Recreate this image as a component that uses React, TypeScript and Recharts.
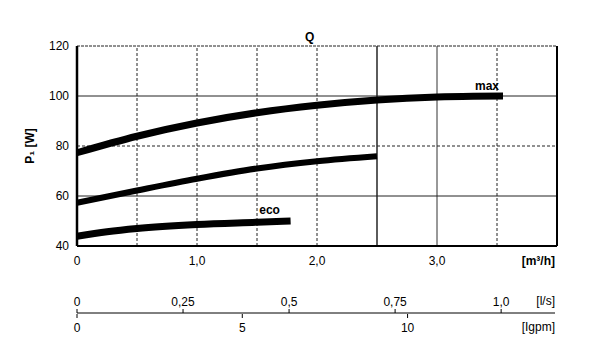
import { LineChart, Line, XAxis, YAxis, ReferenceLine } from "recharts";

// pump curves, Q [m³/h] vs P1 [W]
const maxQ = [0, 0.5, 1.0, 1.5, 2.0, 2.5, 3.0, 3.3, 3.55];
const maxP = [77.3, 83.9, 89.2, 93.3, 96.3, 98.4, 99.6, 99.9, 100.0];

const midQ = [0, 0.5, 1.0, 1.5, 2.0, 2.5];
const midP = [57.3, 62.2, 66.9, 71.0, 73.9, 75.9];

const ecoQ = [0, 0.25, 0.5, 1.0, 1.5, 1.78];
const ecoP = [43.9, 45.7, 47.0, 48.6, 49.5, 50.0];

const qTicks = [0, 1, 2, 3];
const pTicks = [40, 60, 80, 100, 120];
const lsTicks = [0, 0.25, 0.5, 0.75, 1.0];
const igTicks = [0, 5, 10];

// grid
const gridQ = [0.5, 1.0, 1.5, 2.0, 2.5, 3.0, 3.5];
const solidQ = [2.5, 3.0];
const gridP = [60, 80, 100];
const dashedP = [80];

const maxData = maxQ.map((q, i) => ({ q, p: maxP[i] }));
const midData = midQ.map((q, i) => ({ q, p: midP[i] }));
const ecoData = ecoQ.map((q, i) => ({ q, p: ecoP[i] }));
const scaleData = [...lsTicks.map((v) => ({ ls: v })), ...igTicks.map((v) => ({ ig: v }))];

const FONT = "'Liberation Sans', Arial, sans-serif";
const tickStyle = { fill: "#000", fontSize: 12, fontFamily: FONT };

const comma = (v: number) => (v === 0 ? "0" : v.toFixed(1).replace(".", ","));
const comma2 = (v: number) => {
    if (v === 0) return "0";
    if (v === 0.25 || v === 0.75) return v.toFixed(2).replace(".", ",");
    return v.toFixed(1).replace(".", ",");
};

function endLabel(text: string, count: number, dx: number, dy: number) {
    return (props: any) => {
        if (props.index !== count - 1) return null;
        return (
            <text
                x={props.x + dx}
                y={props.y + dy}
                textAnchor="middle"
                fontFamily={FONT}
                fontSize={12}
                fontWeight="bold"
                fill="#000"
            >
                {text}
            </text>
        );
    };
}

export default function App() {
    return (
        <div style={{ position: "absolute", left: 0, top: 0, width: 600, height: 361, background: "#fff" }}>
            <div
                style={{
                    position: "absolute",
                    left: 305,
                    top: 30,
                    fontFamily: FONT,
                    fontSize: 12,
                    fontWeight: "bold",
                }}
            >
                Q
            </div>
            <div style={{ position: "absolute", left: 0, top: 0 }}>
                <LineChart width={600} height={280} margin={{ top: 46, right: 43, bottom: 4, left: 0 }}>
                    <XAxis
                        type="number"
                        dataKey="q"
                        domain={[0, 4]}
                        ticks={qTicks}
                        tickFormatter={comma}
                        tick={tickStyle}
                        axisLine={false}
                        tickLine={false}
                        tickMargin={4}
                        height={30}
                        allowDuplicatedCategory={false}
                        label={{
                            value: "[m³/h]",
                            position: "insideRight",
                            offset: 2,
                            style: { ...tickStyle, fontWeight: "bold" },
                        }}
                    />
                    <YAxis
                        type="number"
                        domain={[40, 120]}
                        ticks={pTicks}
                        tick={tickStyle}
                        axisLine={false}
                        tickLine={false}
                        width={77}
                        label={{
                            value: "P₁ [W]",
                            angle: -90,
                            position: "insideLeft",
                            offset: 30,
                            style: { ...tickStyle, fontWeight: "bold", textAnchor: "middle" },
                        }}
                    />
                    {gridQ.map((q) => (
                        <ReferenceLine
                            key={"gq" + q}
                            x={q}
                            stroke={solidQ.includes(q) ? "#333" : "#222"}
                            strokeWidth={q === 2.5 ? 1.6 : 1}
                            strokeDasharray={solidQ.includes(q) ? undefined : "3 2"}
                        />
                    ))}
                    {gridP.map((p) => (
                        <ReferenceLine
                            key={"gp" + p}
                            y={p}
                            stroke="#222"
                            strokeWidth={1}
                            strokeDasharray={dashedP.includes(p) ? "3 2" : undefined}
                        />
                    ))}
                    <ReferenceLine y={120} stroke="#222" strokeWidth={1} strokeDasharray="3 1" />
                    <ReferenceLine y={40} stroke="#000" strokeWidth={2} />
                    <ReferenceLine x={0} stroke="#000" strokeWidth={2.5} />
                    <ReferenceLine x={4} stroke="#000" strokeWidth={2} />
                    <Line
                        data={maxData}
                        dataKey="p"
                        type="monotone"
                        stroke="#000"
                        strokeWidth={7}
                        dot={false}
                        isAnimationActive={false}
                        label={endLabel("max", maxData.length, -16, -6)}
                    />
                    <Line
                        data={midData}
                        dataKey="p"
                        type="monotone"
                        stroke="#000"
                        strokeWidth={6}
                        dot={false}
                        isAnimationActive={false}
                    />
                    <Line
                        data={ecoData}
                        dataKey="p"
                        type="monotone"
                        stroke="#000"
                        strokeWidth={7}
                        dot={false}
                        isAnimationActive={false}
                        label={endLabel("eco", ecoData.length, -21, -7)}
                    />
                </LineChart>
            </div>
            <div style={{ position: "absolute", left: 0, top: 288 }}>
                <LineChart
                    width={600}
                    height={51}
                    data={scaleData}
                    margin={{ top: 0, right: 45, bottom: 0, left: 77 }}
                >
                    <XAxis
                        xAxisId="ls"
                        orientation="top"
                        type="number"
                        dataKey="ls"
                        domain={[0, 1.127]}
                        allowDataOverflow
                        ticks={lsTicks}
                        tickFormatter={comma2}
                        tick={tickStyle}
                        stroke="#000"
                        tickSize={4}
                        tickMargin={3}
                        height={25}
                        label={{ value: "[l/s]", position: "insideRight", offset: 0, style: tickStyle }}
                    />
                    <XAxis
                        xAxisId="ig"
                        orientation="bottom"
                        type="number"
                        dataKey="ig"
                        domain={[0, 14.46]}
                        allowDataOverflow
                        ticks={igTicks}
                        tick={tickStyle}
                        stroke="#000"
                        axisLine={false}
                        tickSize={4}
                        tickMargin={5}
                        height={25}
                        label={{ value: "[Igpm]", position: "insideRight", offset: 0, style: tickStyle }}
                    />
                    <YAxis hide domain={[0, 1]} />
                </LineChart>
            </div>
        </div>
    );
}
